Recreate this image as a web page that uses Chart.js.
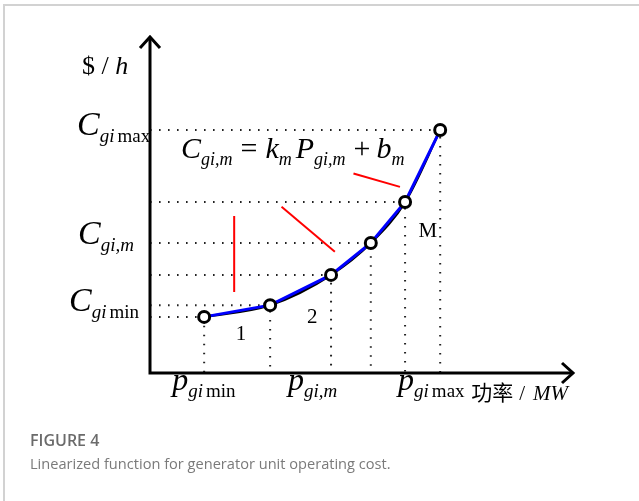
<!DOCTYPE html>
<html>
<head>
<meta charset="utf-8">
<script src="https://cdn.jsdelivr.net/npm/chart.js@4.4.1/dist/chart.umd.min.js"></script>
<style>
  html, body { margin: 0; padding: 0; background: #fff; }
  #wrap { position: relative; width: 639px; height: 501px; overflow: hidden; }
  #frame { position: absolute; left: 3px; top: 4px; right: -2px; bottom: -2px;
           border-top: 2px solid #d2d2d2; border-left: 2px solid #d2d2d2; }
  #c { position: absolute; left: 0; top: 0; }
  .cap { position: absolute; left: 30px; font-family: "Open Sans", "Noto Sans", sans-serif; }
  #capTitle { top: 429px; font-size: 16px; font-weight: 600; color: #6b6b6b; }
  #capText { top: 453px; font-size: 14.6px; color: #7a7a7a; }
</style>
</head>
<body>
<div id="wrap">
  <div id="frame"></div>
  <canvas id="c" width="639" height="501"></canvas>
  <div class="cap" id="capTitle">FIGURE 4</div>
  <div class="cap" id="capText">Linearized function for generator unit operating cost.</div>
</div>
<script>
// Breakpoints of the linearized cost curve (schematic units)
const powerMW = [12.8, 28.4, 42.8, 52.2, 60.3, 68.6];
const costPerHour = [16.7, 20.2, 29.2, 38.7, 50.9, 72.3];

// Red pointer strokes from the formula to the segments
const pointer1X = [19.9, 19.9];
const pointer1Y = [46.7, 24.1];
const pointer2X = [31.1, 43.7];
const pointer2Y = [49.5, 36.1];
const pointer3X = [48.1, 59.1];
const pointer3Y = [59.4, 55.4];

// Segment numbers and where they sit
const segLabels = ['1', '2', 'M'];
const segLabelX = [20.3, 37.1, 63.5];
const segLabelY = [9.9, 14.9, 40.5];

const SERIF = '"Liberation Serif", "DejaVu Serif", serif';

function pts(xs, ys) {
    return xs.map((x, i) => ({ x: x, y: ys[i] }));
}

// dotted L-shaped guides: y axis -> breakpoint -> x axis
const guideSets = powerMW.map((x, i) => ({
    data: [{ x: 0, y: costPerHour[i] }, { x: x, y: costPerHour[i] }, { x: x, y: 0 }],
    borderColor: '#222',
    borderWidth: 2,
    borderDash: [1.6, 7.4],
    pointRadius: 0,
    tension: 0,
    order: 10
}));

function redLine(xs, ys) {
    return {
        data: pts(xs, ys),
        borderColor: '#ff0000',
        borderWidth: 2,
        pointRadius: 0,
        order: 5
    };
}

// draw a run of text pieces, each with its own font and baseline shift
function drawRich(ctx, x, y, parts) {
    let cx = x;
    parts.forEach(p => {
        ctx.font = (p.i ? 'italic ' : '') + p.s + 'px ' + (p.f || SERIF);
        ctx.fillText(p.t, cx + (p.pre || 0), y + (p.dy || 0));
        cx += (p.pre || 0) + ctx.measureText(p.t).width + (p.post || 0);
    });
}

const sub = (t, italic, pre) => ({ t: t, s: 19, i: italic, dy: 7, pre: pre || 0 });

const axesPlugin = {
    id: 'axesAndText',
    afterDatasetsDraw(chart) {
        const ctx = chart.ctx;
        const a = chart.chartArea;
        const xs = chart.scales.x, ys = chart.scales.y;
        ctx.save();
        ctx.strokeStyle = '#000';
        ctx.lineWidth = 3;
        ctx.lineJoin = 'miter';
        ctx.lineCap = 'butt';
        // axes
        ctx.beginPath();
        ctx.moveTo(a.left, a.bottom + 1.5);
        ctx.lineTo(a.left, a.top + 1);
        ctx.moveTo(a.left - 1.5, a.bottom);
        ctx.lineTo(a.right - 1, a.bottom);
        ctx.stroke();
        // arrow heads
        ctx.beginPath();
        ctx.moveTo(a.left - 10, a.top + 11);
        ctx.lineTo(a.left, a.top);
        ctx.lineTo(a.left + 10, a.top + 11);
        ctx.moveTo(a.right - 11, a.bottom - 10);
        ctx.lineTo(a.right, a.bottom);
        ctx.lineTo(a.right - 11, a.bottom + 10);
        ctx.stroke();

        ctx.fillStyle = '#000';
        ctx.textBaseline = 'alphabetic';
        ctx.textAlign = 'left';

        // y axis title
        drawRich(ctx, a.left - 68, a.top + 37, [
            { t: '$ / ', s: 26 }, { t: 'h', s: 26, i: true }
        ]);

        // y labels
        const yMax = ys.getPixelForValue(costPerHour[5]);
        const yMid = ys.getPixelForValue(costPerHour[3]);
        const yMin = ys.getPixelForValue(costPerHour[0]);
        drawRich(ctx, a.left - 73, yMax + 5, [
            { t: 'C', s: 34, i: true }, sub('gi', true), sub('max', false, 3)
        ]);
        drawRich(ctx, a.left - 72, yMid + 1, [
            { t: 'C', s: 34, i: true }, sub('gi,m', true)
        ]);
        drawRich(ctx, a.left - 81, yMin - 6, [
            { t: 'C', s: 34, i: true }, sub('gi', true), sub('min', false, 3)
        ]);

        // x labels
        const xb = a.bottom + 17;
        drawRich(ctx, xs.getPixelForValue(powerMW[0]) - 32, xb, [
            { t: 'p', s: 32, i: true }, sub('gi', true), sub('min', false, 3)
        ]);
        drawRich(ctx, xs.getPixelForValue(powerMW[2]) - 43, xb, [
            { t: 'p', s: 32, i: true }, sub('gi,m', true)
        ]);
        drawRich(ctx, xs.getPixelForValue(powerMW[4]) - 7, xb, [
            { t: 'p', s: 32, i: true }, sub('gi', true), sub('max', false, 3)
        ]);
        drawRich(ctx, xs.getPixelForValue(powerMW[5]) + 31, xb + 10, [
            { t: '功率', s: 21, f: '"Noto Sans CJK SC", sans-serif', post: 6 },
            { t: '/', s: 21, post: 8 }, { t: 'MW', s: 21, i: true }
        ]);

        // formula
        drawRich(ctx, a.left + 31, a.top + 121, [
            { t: 'C', s: 30, i: true }, { t: 'gi,m', s: 18, i: true, dy: 7 },
            { t: '=', s: 30, pre: 8, post: 8 },
            { t: 'k', s: 30, i: true }, { t: 'm', s: 18, i: true, dy: 7, post: 4 },
            { t: 'P', s: 30, i: true }, { t: 'gi,m', s: 18, i: true, dy: 7 },
            { t: '+', s: 30, pre: 8, post: 6 },
            { t: 'b', s: 30, i: true }, { t: 'm', s: 18, i: true, dy: 7 }
        ]);

        // segment numbers
        ctx.font = '21px ' + SERIF;
        segLabels.forEach((t, i) => {
            ctx.fillText(t, xs.getPixelForValue(segLabelX[i]), ys.getPixelForValue(segLabelY[i]));
        });
        ctx.restore();
    }
};

new Chart(document.getElementById('c').getContext('2d'), {
    type: 'line',
    data: {
        datasets: [
            {
                // piecewise linear approximation with breakpoints
                data: pts(powerMW, costPerHour),
                borderColor: '#0000ff',
                borderWidth: 3,
                tension: 0,
                pointRadius: 5.5,
                pointBackgroundColor: '#fff',
                pointBorderColor: '#000',
                pointBorderWidth: 3,
                order: 0
            },
            {
                // original cost curve
                data: pts(powerMW, costPerHour),
                borderColor: '#000',
                borderWidth: 2.5,
                cubicInterpolationMode: 'monotone',
                pointRadius: 0,
                order: 1
            },
            redLine(pointer1X, pointer1Y),
            redLine(pointer2X, pointer2Y),
            redLine(pointer3X, pointer3Y),
            ...guideSets
        ]
    },
    options: {
        responsive: false,
        animation: false,
        layout: { padding: { left: 150, top: 37, right: 66, bottom: 128 } },
        scales: {
            x: { type: 'linear', min: 0, max: 100, display: false },
            y: { type: 'linear', min: 0, max: 100, display: false }
        },
        plugins: {
            legend: { display: false },
            tooltip: { enabled: false }
        },
        clip: false
    },
    plugins: [axesPlugin]
});
</script>
</body>
</html>
